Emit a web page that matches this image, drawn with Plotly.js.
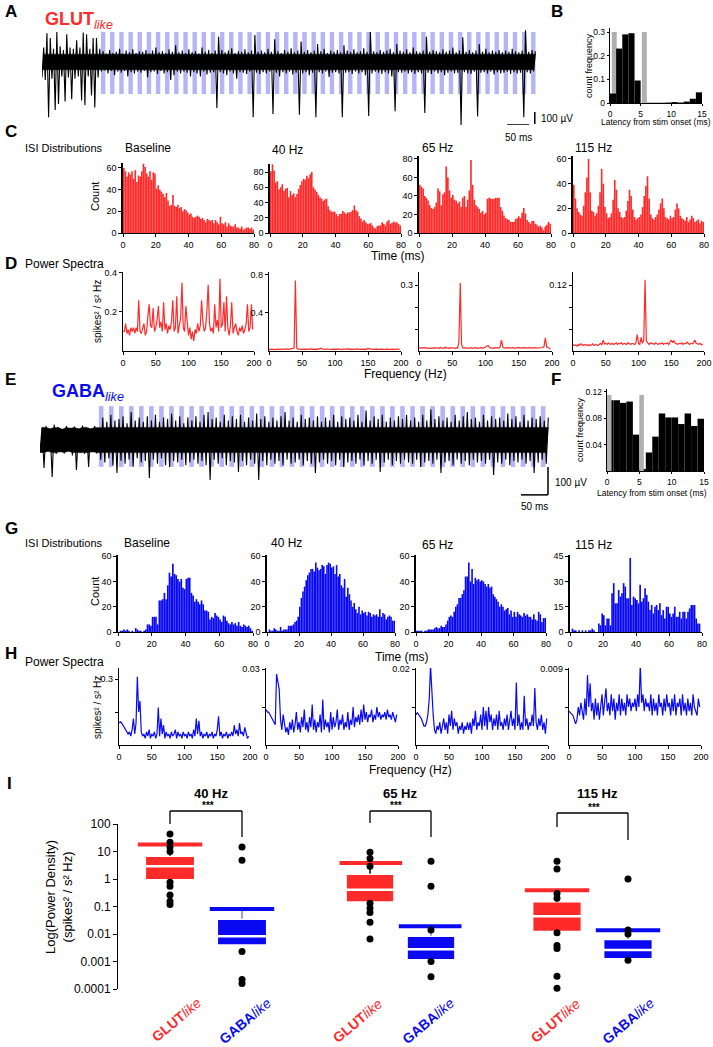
<!DOCTYPE html>
<html><head><meta charset="utf-8">
<script src="https://cdn.plot.ly/plotly-3.0.1.min.js"></script>
<style>html,body{margin:0;padding:0;background:#fff}#chart{width:713px;height:1047px}</style>
</head><body><div id="chart"></div>
<script>
// ---------------- DATA ----------------
// Panel A / E raw traces: per-bin max / min (µV), 7.5 ms bins
const traceBinMs = 7.5;
const A_hi = [120,240,200,110,250,130,100,230,120,110,180,120,245,230,110,200,200,110,
 90,70,100,75,85,110,70,95,80,105,75,90,
 85,100,70,95,120,80,90,75,105,85,140,80,
 95,75,105,80,90,70,120,85,100,75,95,210,
 100,80,95,115,75,90,85,105,80,95,225,85,
 95,80,110,85,190,90,75,100,85,115,80,95,
 170,85,100,80,95,150,90,110,75,95,85,100,
 80,140,95,85,105,80,90,115,85,250,90,80,
 100,85,95,110,80,150,95,85,105,80,120,90,
 80,95,210,85,100,90,80,105,85,95,120,80,
 95,205,85,100,80,95,150,85,110,80,95,85,
 100,80,95,85,110,90,80,95,265,85,100,90];
const A_lo = [-130,-150,-460,-140,-400,-350,-120,-330,-130,-310,-140,-120,-320,-360,-120,-280,-380,-130,
 -80,-70,-95,-75,-110,-80,-90,-75,-120,-85,-95,-80,
 -90,-75,-130,-85,-80,-100,-75,-95,-85,-150,-110,-80,
 -95,-80,-90,-120,-85,-95,-120,-80,-105,-90,-85,-383,
 -85,-95,-110,-80,-95,-140,-85,-90,-100,-80,-460,-90,
 -100,-85,-95,-80,-433,-90,-120,-85,-95,-80,-105,-90,
 -440,-95,-85,-110,-90,-460,-85,-95,-80,-125,-90,-85,
 -95,-460,-90,-85,-100,-80,-95,-85,-110,-450,-95,-80,
 -90,-100,-85,-95,-120,-410,-85,-90,-80,-95,-85,-100,
 -85,-95,-425,-90,-100,-80,-95,-85,-110,-90,-80,-95,
 -90,-525,-85,-95,-100,-80,-455,-90,-85,-95,-80,-105,
 -85,-95,-90,-80,-100,-85,-95,-90,-460,-85,-95,-80];
const E_hi = [45,50,40,55,45,38,50,42,48,40,52,45,40,50,44,
 80,65,90,70,75,85,60,100,70,80,65,
 85,70,90,65,80,75,95,70,85,60,80,
 70,85,65,90,100,75,80,65,90,70,85,
 75,90,65,80,70,95,75,85,65,80,70,
 85,100,70,80,65,90,75,80,70,85,65,
 80,70,90,65,85,75,80,70,90,65,105,
 70,85,75,90,65,80,70,85,75,90,70,
 80,65,90,70,110,75,85,70,80,65,90,
 70,85,100,75,80,65,90,70,85,75,80,
 70,95,75,85,65,90,70,80,75,85,70,80];
const E_lo = [-45,-100,-40,-132,-50,-42,-48,-40,-55,-107,-45,-50,-96,-42,-48,
 -70,-80,-65,-90,-118,-75,-85,-70,-95,-65,-80,
 -75,-136,-70,-85,-65,-90,-96,-75,-80,-70,-90,
 -80,-70,-85,-75,-90,-143,-70,-85,-65,-90,-75,
 -80,-114,-75,-90,-70,-85,-143,-75,-90,-70,-85,
 -75,-90,-70,-85,-80,-70,-90,-75,-85,-118,-80,
 -70,-85,-75,-90,-70,-96,-80,-75,-85,-70,-90,
 -75,-85,-70,-114,-80,-70,-90,-75,-85,-70,-80,
 -85,-70,-96,-80,-75,-85,-70,-118,-80,-75,-90,
 -70,-85,-75,-90,-70,-80,-75,-85,-70,-125,-80,
 -85,-70,-90,-75,-80,-70,-85,-75,-118,-80,-70,-85];
// stimulation trains (ms)
const stimA = {start:134, period:20.8, width:10, count:48};
const stimE = {start:109, period:18.6, width:8.5, count:45};

// Panels B / F: latency histograms (1 ms bins, 0-15 ms)
const B_freq = [0.04,0.23,0.29,0.295,0.095,0,0.001,0.001,0.001,0.002,0.004,0.002,0.006,0.018,0.045];
const B_blank = [[0.3,1.1],[5.2,6.0]];
const F_freq = [0.107,0.107,0.103,0.105,0.055,0.003,0.028,0.052,0.087,0.081,0.081,0.071,0.087,0.068,0.079];
const F_blank = [[0,0.7],[5,5.7]];
const B_blankH = 0.3, F_blankH = 0.115;

// Panel C: GLUT ISI distributions (1 ms bins, 0-80 ms)
const C_base = [60,57,52,56,54,57,50,58,47,53, 52,57,64,61,55,52,57,49,56,55, 41,44,40,38,36,33,37,30,25,26, 35,25,24,26,23,24,20,22,21,19,
 17,18,15,14,15,16,15,13,14,12, 10,13,12,11,12,9,12,10,8,15, 9,8,10,6,9,7,6,6,8,5, 5,4,6,3,4,5,5,4,5,3];
const C_40 = [81,90,82,66,68,57,60,64,55,58, 59,47,55,50,52,47,51,58,63,68, 71,70,75,72,77,80,60,57,54,50, 47,45,42,44,45,35,30,28,28,28,
 25,22,25,25,29,27,25,27,27,28, 30,36,30,28,22,19,15,17,14,12, 12,13,10,7,6,9,10,10,14,12, 10,15,17,12,13,15,14,14,12,10];
const C_65 = [52,50,48,40,38,35,30,27,26,28, 33,48,45,30,42,44,72,60,46,38, 41,36,35,32,34,28,38,40,28,36, 46,79,52,36,30,28,26,22,24,20,
 22,37,38,37,37,37,38,38,38,28, 24,19,16,15,14,12,12,12,15,16, 18,16,22,27,21,14,12,10,13,13, 10,9,7,8,6,3,7,9,12,10];
const C_115 = [39,28,20,17,15,14,22,33,45,60, 33,18,17,14,16,22,33,52,40,21, 16,12,13,16,27,43,35,20,17,13, 12,13,18,26,35,30,19,13,11,12,
 13,15,21,30,38,46,28,15,12,11, 13,15,19,24,28,20,13,12,11,14, 12,13,19,24,20,14,12,11,10,13, 9,11,14,12,9,10,11,8,10,9];
// Panel G: GABA ISI distributions
const G_base = [0,1,1,2,1,2,1,0,1,0, 3,2,1,1,0,1,2,6,6,5, 12,12,12,6,25,25,26,31,26,37, 47,44,54,46,45,42,40,42,35,34,
 42,43,43,31,29,24,26,24,22,25, 22,17,17,16,10,12,11,15,13,12, 10,8,13,12,9,7,6,8,6,7, 5,8,5,4,6,5,4,5,3,1];
const G_40 = [0,2,1,1,3,2,1,1,4,1, 2,2,2,5,5,5,6,8,9,12, 20,27,32,36,41,45,47,50,50,48, 55,51,49,50,53,52,46,53,55,54,
 51,52,46,53,44,46,37,35,42,28, 35,30,25,20,23,18,15,20,14,17, 15,16,13,16,15,12,14,13,14,12, 18,12,15,14,10,12,13,12,9,9];
const G_65 = [1,1,1,1,0,1,1,2,2,2, 2,3,4,3,3,5,4,4,6,9, 12,13,12,16,20,22,27,27,30,33, 44,44,55,40,50,38,43,41,42,40,
 41,40,38,36,38,35,36,30,28,26, 24,20,22,20,17,18,19,14,17,12, 16,12,16,14,13,12,15,13,14,12, 12,10,14,10,9,16,14,8,11,11];
const G_115 = [0,2,1,1,0,1,0,1,0,1, 0,1,1,2,1,0,0,5,4,11, 10,4,8,8,4,23,29,17,17,25, 21,23,29,27,20,20,44,16,21,20,
 19,17,28,18,20,26,22,18,13,16, 11,15,16,13,17,10,13,8,15,15, 11,9,11,15,9,9,12,8,12,12, 8,12,14,16,16,16,8,5,5,0];

// Panels D / H: power spectra, 2 Hz resolution (0-198 Hz)
const freqStepHz = 2;
const D_base = [0.10,0.10,0.14,0.09,0.11,0.08,0.12,0.10,0.12,0.09, 0.12,0.10,0.26,0.10,0.09,0.12,0.14,0.08,0.10,0.18,
 0.24,0.13,0.12,0.22,0.10,0.12,0.16,0.23,0.12,0.15, 0.10,0.25,0.11,0.14,0.09,0.13,0.11,0.15,0.26,0.10,
 0.12,0.28,0.09,0.13,0.17,0.35,0.12,0.10,0.23,0.15, 0.08,0.12,0.06,0.10,0.05,0.11,0.09,0.14,0.10,0.13,
 0.26,0.15,0.10,0.12,0.20,0.34,0.14,0.10,0.12,0.09, 0.24,0.12,0.16,0.10,0.37,0.12,0.14,0.25,0.10,0.28,
 0.12,0.08,0.13,0.25,0.09,0.12,0.14,0.10,0.08,0.12, 0.10,0.13,0.09,0.11,0.14,0.24,0.10,0.12,0.24,0.11];
const D_40 = [0.02,0.015,0.02,0.018,0.02,0.015,0.02,0.017,0.022,0.018, 0.02,0.016,0.02,0.018,0.022,0.017,0.02,0.018,0.02,0.03,
 0.74,0.03,0.02,0.016,0.02,0.018,0.021,0.017,0.02,0.018, 0.02,0.016,0.022,0.018,0.02,0.017,0.02,0.018,0.025,0.03,
 0.022,0.018,0.02,0.017,0.021,0.018,0.02,0.016,0.02,0.018, 0.02,0.017,0.022,0.018,0.02,0.016,0.02,0.018,0.021,0.02,
 0.025,0.018,0.02,0.017,0.02,0.018,0.022,0.017,0.02,0.018, 0.02,0.022,0.018,0.02,0.017,0.03,0.022,0.02,0.018,0.02,
 0.017,0.02,0.018,0.022,0.017,0.02,0.018,0.02,0.016,0.02, 0.018,0.02,0.017,0.02,0.018,0.021,0.017,0.02,0.018,0.02];
const D_65 = [0.015,0.012,0.015,0.013,0.016,0.012,0.014,0.013,0.015,0.012, 0.014,0.012,0.015,0.013,0.014,0.012,0.016,0.013,0.014,0.012,
 0.018,0.013,0.014,0.012,0.015,0.013,0.014,0.012,0.015,0.013, 0.04,0.31,0.03,0.014,0.013,0.015,0.012,0.014,0.013,0.015,
 0.012,0.014,0.013,0.015,0.012,0.014,0.013,0.015,0.012,0.014, 0.018,0.022,0.025,0.015,0.013,0.014,0.012,0.015,0.013,0.014,
 0.013,0.02,0.05,0.018,0.013,0.014,0.012,0.015,0.013,0.014, 0.013,0.015,0.012,0.014,0.013,0.016,0.013,0.014,0.012,0.015,
 0.013,0.014,0.012,0.015,0.013,0.014,0.012,0.015,0.013,0.014, 0.013,0.015,0.014,0.016,0.02,0.06,0.018,0.014,0.012,0.01];
const D_115 = [0.012,0.01,0.011,0.009,0.012,0.01,0.013,0.011,0.01,0.012, 0.011,0.01,0.012,0.01,0.011,0.013,0.01,0.012,0.011,0.01,
 0.012,0.014,0.011,0.02,0.013,0.014,0.012,0.015,0.013,0.012, 0.014,0.012,0.013,0.015,0.012,0.014,0.013,0.015,0.012,0.014,
 0.013,0.012,0.015,0.013,0.012,0.014,0.013,0.012,0.015,0.03, 0.014,0.012,0.025,0.014,0.02,0.13,0.018,0.014,0.012,0.015,
 0.013,0.014,0.012,0.015,0.013,0.012,0.014,0.013,0.015,0.012, 0.014,0.013,0.015,0.012,0.016,0.02,0.015,0.019,0.014,0.013,
 0.012,0.014,0.013,0.015,0.012,0.014,0.013,0.016,0.013,0.012, 0.014,0.013,0.015,0.02,0.014,0.013,0.012,0.014,0.011,0.013];
const H_base = [0.10,0.105,0.10,0.09,0.08,0.07,0.06,0.05,0.06,0.04, 0.07,0.12,0.05,0.10,0.31,0.15,0.20,0.06,0.04,0.05,
 0.03,0.06,0.04,0.07,0.03,0.05,0.04,0.06,0.03,0.05, 0.17,0.04,0.12,0.05,0.09,0.03,0.06,0.04,0.05,0.03,
 0.06,0.04,0.05,0.07,0.03,0.06,0.04,0.05,0.03,0.06, 0.04,0.05,0.03,0.06,0.04,0.05,0.03,0.07,0.04,0.12,
 0.05,0.11,0.04,0.06,0.03,0.05,0.04,0.06,0.03,0.05, 0.04,0.06,0.03,0.05,0.04,0.07,0.13,0.04,0.06,0.03,
 0.05,0.04,0.06,0.03,0.05,0.04,0.06,0.04,0.09,0.05, 0.07,0.04,0.10,0.05,0.06,0.04,0.08,0.05,0.03,0.04];
const H_40 = [0.014,0.013,0.013,0.012,0.011,0.010,0.009,0.008,0.028,0.024, 0.022,0.010,0.006,0.012,0.008,0.005,0.007,0.004,0.009,0.006,
 0.010,0.005,0.008,0.013,0.006,0.009,0.005,0.011,0.007,0.014, 0.006,0.009,0.005,0.011,0.007,0.016,0.006,0.010,0.005,0.009,
 0.007,0.012,0.005,0.018,0.006,0.010,0.007,0.009,0.005,0.013, 0.006,0.011,0.007,0.009,0.014,0.006,0.010,0.008,0.012,0.006,
 0.009,0.007,0.013,0.006,0.010,0.008,0.015,0.007,0.011,0.009, 0.012,0.008,0.014,0.009,0.016,0.010,0.013,0.009,0.012,0.011,
 0.014,0.009,0.012,0.010,0.015,0.011,0.013,0.010,0.012,0.011, 0.013,0.010,0.014,0.011,0.012,0.010,0.013,0.011,0.009,0.012];
const H_65 = [0.008,0.0085,0.008,0.0075,0.007,0.006,0.005,0.005,0.006,0.008, 0.012,0.021,0.014,0.008,0.004,0.003,0.005,0.004,0.006,0.003,
 0.005,0.007,0.004,0.006,0.003,0.008,0.005,0.009,0.004,0.007, 0.005,0.006,0.003,0.005,0.004,0.006,0.003,0.005,0.004,0.006,
 0.004,0.006,0.003,0.007,0.005,0.009,0.004,0.006,0.005,0.008, 0.004,0.010,0.005,0.009,0.004,0.010,0.006,0.008,0.004,0.007,
 0.005,0.008,0.004,0.009,0.005,0.006,0.004,0.007,0.005,0.008, 0.004,0.006,0.009,0.005,0.007,0.004,0.0165,0.005,0.008,0.004,
 0.006,0.004,0.013,0.005,0.007,0.004,0.006,0.005,0.008,0.005, 0.015,0.006,0.004,0.007,0.005,0.008,0.004,0.006,0.003,0.007];
const H_115 = [0.0040,0.0038,0.0037,0.0035,0.0030,0.0025,0.0030,0.0045,0.0035,0.0050, 0.0040,0.0030,0.0055,0.0035,0.0083,0.0045,0.0073,0.0040,0.0050,0.0030,
 0.0055,0.0035,0.0050,0.0030,0.0045,0.0060,0.0035,0.0050,0.0067,0.0040, 0.0050,0.0035,0.0060,0.0040,0.0055,0.0030,0.0050,0.0040,0.0060,0.0035,
 0.0055,0.0040,0.0050,0.0035,0.0060,0.0045,0.0055,0.0040,0.0050,0.0045, 0.0055,0.0040,0.0060,0.0045,0.0096,0.0050,0.0060,0.0040,0.0055,0.0045,
 0.0050,0.0040,0.0060,0.0035,0.0055,0.0040,0.0050,0.0035,0.0060,0.0045, 0.0050,0.0035,0.0055,0.0040,0.0060,0.0045,0.0050,0.0035,0.0055,0.0040,
 0.0060,0.0035,0.0050,0.0045,0.0055,0.0035,0.0060,0.0040,0.0050,0.0035, 0.0055,0.0040,0.0050,0.0035,0.0060,0.0045,0.0040,0.0035,0.0055,0.0045];

// Panel I: power density at stim frequency (box stats + individual points)
const I_groups = ['40 Hz','65 Hz','115 Hz'];
const I_cats = ['GLUT','GABA'];
const I_q1     = [[0.9,0.0038],[0.14,0.0011],[0.0118,0.0012]];
const I_median = [[2.9,0.0083],[0.41,0.0028],[0.044,0.0026]];
const I_q3     = [[7.0,0.036],[1.56,0.0087],[0.155,0.0066]];
const I_cap    = [[17.8,0.081],[3.8,0.019],[0.39,0.0136]];
const I_points = [
 [[43,21.5,14.6,10,0.76,0.54,0.26,0.155,0.118],[14.6,4.8,0.0023,0.00022,0.00016]],
 [[9.3,5.6,2.9,0.13,0.087,0.061,0.027,0.0066],[4.4,0.54,0.014,0.001,0.00028,0.000051]],
 [[4.4,2.3,0.3,0.2,0.011,0.0038,0.003,0.00029,0.000107],[1.0,0.014,0.01,0.0011,0.000069]]];
const I_sig = ['***','***','***'];

// ---------------- LAYOUT HELPERS ----------------
const W=713, H=1047, FONT='Liberation Sans, Arial, Helvetica, sans-serif';
const RED='#ff2b2b', BLUE='#0a0af2', STIM='#b4b4f7', GREY='#b0b0b0';
const px = v => v/W, py = v => 1-v/H;
const xd = (a,b)=>[a/W,b/W], yd=(t,b)=>[1-b/H,1-t/H];
const data=[];
const layout={width:W,height:H,margin:{l:0,r:0,t:0,b:0},showlegend:false,paper_bgcolor:'#fff',plot_bgcolor:'rgba(0,0,0,0)',
  font:{family:FONT,color:'#000'},barmode:'overlay',annotations:[],shapes:[],hovermode:false};
const baseAx={showgrid:false,zeroline:false,showline:true,linecolor:'#000',linewidth:1.3,ticks:'outside',ticklen:3,tickwidth:1,
  tickcolor:'#000',tickfont:{size:9,family:FONT,color:'#000'},fixedrange:true};
function axes(n,xdom,ydom,xr,yr,xo,yo){
  layout['xaxis'+n]=Object.assign({},baseAx,{domain:xdom,range:xr,anchor:'y'+n},xo||{});
  layout['yaxis'+n]=Object.assign({},baseAx,{domain:ydom,range:yr,anchor:'x'+n},yo||{});
}
function txt(x,y,text,o){o=o||{};layout.annotations.push({xref:'paper',yref:'paper',x:px(x),y:py(y),text,showarrow:false,
  xanchor:o.xa||'left',yanchor:'middle',textangle:o.rot||0,font:{family:FONT,size:o.size||11,color:o.color||'#000'}});}
const hid={visible:false};

// ---- traces A and E: dense noise core (fill, clipped to core level) + min/max zig-zag line ----
function rawTrace(n,hi,lo,core){
  const x=[],y=[],ex=[],ey=[];
  hi.forEach((h,i)=>{x.push(i*traceBinMs,i*traceBinMs+traceBinMs/2);y.push(lo[i],h);});
  hi.forEach((h,i)=>{ex.push(i*traceBinMs+traceBinMs/2);ey.push(Math.min(h,core));});
  for(let i=lo.length-1;i>=0;i--){ex.push(i*traceBinMs);ey.push(Math.max(lo[i],-core));}
  data.push({type:'scatter',mode:'lines',x:ex,y:ey,fill:'toself',fillcolor:'#000',line:{color:'#000',width:0.5},xaxis:'x'+n,yaxis:'y'+n,cliponaxis:false});
  data.push({type:'scatter',mode:'lines',x,y,xaxis:'x'+n,yaxis:'y'+n,line:{color:'#000',width:1.1},cliponaxis:false});}
function stimBars(n,s,lo,hi){const x=[];for(let k=0;k<s.count;k++)x.push(s.start+k*s.period+s.width/2);
  data.push({type:'bar',x,y:x.map(()=>hi-lo),base:lo,width:s.width,marker:{color:STIM,line:{width:0}},xaxis:'x'+n,yaxis:'y'+n});}
function scaleBar(n,x0,y0,ms,xv,v0,uv){
  layout.shapes.push({type:'line',xref:'x'+n,yref:'y'+n,x0:x0,x1:x0+ms,y0:y0,y1:y0,line:{color:'#000',width:1.5}});
  layout.shapes.push({type:'line',xref:'x'+n,yref:'y'+n,x0:xv,x1:xv,y0:v0,y1:v0+uv,line:{color:'#000',width:1.5}});}

// A: px 42-537 (1125 ms), y px 28-125, 100 µV = 12 px
axes(2,xd(42,537),yd(28,125),[0,1125],[-525,283],hid,hid);
stimBars(2,stimA,-267,250);
rawTrace(2,A_hi,A_lo,65);
scaleBar(2,1057,-525,50,1120,-517,100);
// E: px 40-550 (944 ms), y px 400-497, 100 µV = 28 px
axes(12,xd(40,550),yd(400,497),[0,944.4],[-203.6,142.9],hid,hid);
stimBars(12,stimE,-96,121);
rawTrace(12,E_hi,E_lo,45);
scaleBar(12,890.7,-196,50,940.7,-196,100);

// ---- latency histograms B and F ----
function latHist(n,freq,blank,bh,greyOnTop){
  const g={type:'bar',x:blank.map(b=>(b[0]+b[1])/2),y:blank.map(()=>bh),width:blank.map(b=>b[1]-b[0]),marker:{color:GREY,line:{width:0}},xaxis:'x'+n,yaxis:'y'+n};
  const k={type:'bar',x:freq.map((_,i)=>i+0.5),y:freq,width:1,marker:{color:'#000',line:{width:0}},xaxis:'x'+n,yaxis:'y'+n};
  if(greyOnTop){data.push(k,g);}else{data.push(g,k);}
}
const smallF={size:8.5,family:FONT,color:'#000'};
const latX={tickvals:[0,5,10,15],ticklen:2,tickfont:smallF};
axes(3,xd(610,702),yd(28,103),[0,15],[0,0.317],latX,{tickvals:[0,0.1,0.2,0.3],ticktext:['0','0.1','0.2','0.3'],ticklen:2,tickfont:smallF});
latHist(3,B_freq,B_blank,B_blankH,false);
axes(13,xd(607,704),yd(389,471),[0,15],[0,0.124],latX,{tickvals:[0.04,0.08,0.12],ticklen:2,tickfont:smallF});
latHist(13,F_freq,F_blank,F_blankH,true);

// ---- ISI histograms ----
function hist(n,vals,color){data.push({type:'bar',x:vals.map((_,i)=>i+0.5),y:vals,width:1,marker:{color,line:{width:0}},xaxis:'x'+n,yaxis:'y'+n});}
const isiX={tickvals:[0,20,40,60,80]};
axes(4,xd(123,254),yd(163,233),[0,80],[0,64.6],isiX,{tickvals:[0,20,40,60],linewidth:1.8});
axes(5,xd(270,401),yd(164,233),[0,80],[0,90.5],isiX,{tickvals:[0,20,40,60,80],linewidth:1.8});
axes(6,xd(419,551),yd(156,233),[0,80],[0,83.2],isiX,{tickvals:[0,20,40,60,80],linewidth:1.8});
axes(7,xd(573,704),yd(156,233),[0,80],[0,62.4],isiX,{tickvals:[0,20,40,60],linewidth:1.8});
[C_base,C_40,C_65,C_115].forEach((v,i)=>hist(4+i,v,RED));
axes(14,xd(118,253),yd(555,632),[0,80],[0,61],isiX,{tickvals:[0,20,40,60],linewidth:1.8});
axes(15,xd(267,395),yd(555,632),[0,80],[0,61],isiX,{tickvals:[0,20,40,60],linewidth:1.8});
axes(16,xd(416,546),yd(555,632),[0,80],[0,61],isiX,{tickvals:[0,20,40,60],linewidth:1.8});
axes(17,xd(570,702),yd(555,632),[0,80],[0,45.7],isiX,{tickvals:[0,15,30,45],linewidth:1.8});
[G_base,G_40,G_65,G_115].forEach((v,i)=>hist(14+i,v,BLUE));

// ---- power spectra ----
function spec(n,vals,color){data.push({type:'scatter',mode:'lines',x:vals.map((_,i)=>i*freqStepHz),y:vals,line:{color,width:1.2},cliponaxis:false,xaxis:'x'+n,yaxis:'y'+n});}
const psX={tickvals:[0,50,100,150,200]};
const mn=v=>({tickvals:v,ticks:'outside',ticklen:3,tickcolor:'#000'});
axes(8,xd(123,254),yd(272,351),[0,200],[0,0.405],psX,{tickvals:[0.2,0.4],ticktext:['0.2','0.4']});
axes(9,xd(269,401),yd(272,351),[0,200],[0,0.83],psX,{tickvals:[0.4,0.8],ticktext:['0.4','0.8']});
axes(10,xd(419,552),yd(272,351),[0,200],[0,0.36],psX,{tickvals:[0.3],minor:mn([0.1,0.2])});
axes(11,xd(573,704),yd(272,351),[0,200],[0,0.144],psX,{tickvals:[0.12],minor:mn([0.04,0.08])});
[D_base,D_40,D_65,D_115].forEach((v,i)=>spec(8+i,v,RED));
axes(18,xd(119,250),yd(668,745),[0,200],[0,0.35],psX,{tickvals:[0.3],minor:mn([0.15])});
axes(19,xd(266,398),yd(668,745),[0,200],[0,0.0304],psX,{tickvals:[0.03],minor:mn([0.015])});
axes(20,xd(416,548),yd(668,745),[0,200],[0,0.0203],psX,{tickvals:[0.02],minor:mn([0.01])});
axes(21,xd(569,701),yd(668,745),[0,200],[0,0.00912],psX,{tickvals:[0.009],minor:mn([0.0045])});
[H_base,H_40,H_65,H_115].forEach((v,i)=>spec(18+i,v,BLUE));

// ---- panel I boxes ----
layout.yaxis22=Object.assign({},baseAx,{type:'log',domain:yd(824,989),range:[-4,2],anchor:'free',position:117/W,
  tickvals:[0.0001,0.001,0.01,0.1,1,10,100],ticktext:['0.0001','0.001','0.01','0.1','1','10','100'],tickfont:{size:12,family:FONT,color:'#000'},ticklen:4});
const grpDom=[xd(134,278),xd(339.5,461.5),xd(521.5,663.5)];
const boxW=[0.7,0.8,0.7];
const catLabel=['<b>GLUT</b><i>like</i>','<b>GABA</b><i>like</i>'];
const catLabelPos=[[[176,1020],[245,1021]],[[357,1021],[428,1021]],[[555,1021],[628,1021]]];
I_groups.forEach((g,gi)=>{
  const n=22+gi, xa='x'+n;
  layout['xaxis'+n]=Object.assign({},baseAx,{domain:grpDom[gi],type:'category',categoryorder:'array',categoryarray:I_cats,range:[-0.5,1.5],
    anchor:'y22',showline:false,ticks:'',showticklabels:false});
  I_cats.forEach((c,ci)=>{
    const col=ci===0?RED:BLUE;
    data.push({type:'box',x:[c],q1:[I_q1[gi][ci]],median:[I_median[gi][ci]],q3:[I_q3[gi][ci]],lowerfence:[I_q1[gi][ci]],upperfence:[I_q3[gi][ci]],
      fillcolor:col,line:{color:'#ffffff',width:2.5},width:boxW[gi],boxpoints:false,xaxis:xa,yaxis:'y22'});
    data.push({type:'scatter',mode:'lines',x:[c,c],y:[I_q3[gi][ci],I_cap[gi][ci]],line:{color:ci===0?'#000':'#6f86d6',width:1.5},xaxis:xa,yaxis:'y22'});
    data.push({type:'scatter',mode:'markers',x:[c],y:[I_cap[gi][ci]],marker:{symbol:'line-ew',size:46,line:{color:col,width:4}},xaxis:xa,yaxis:'y22'});
    data.push({type:'scatter',mode:'markers',x:I_points[gi][ci].map(()=>c),y:I_points[gi][ci],marker:{color:'#000',size:7},cliponaxis:false,xaxis:xa,yaxis:'y22'});
    const lp=catLabelPos[gi][ci];
    txt(lp[0],lp[1],catLabel[ci],{size:14,color:col,rot:-40,xa:'center'});
  });
});
// brackets
const brk=[[811,824,837],[811,823,837],[813,827,840]];
const grpTitleX=[211,400,597], sigX=[208,396,594];
I_groups.forEach((g,gi)=>{
  const xa='x'+(22+gi), b=brk[gi], ln={color:'#000',width:1.3};
  layout.shapes.push({type:'line',xref:xa,yref:'paper',x0:0,x1:1,y0:py(b[0]),y1:py(b[0]),line:ln});
  layout.shapes.push({type:'line',xref:xa,yref:'paper',x0:0,x1:0,y0:py(b[0]),y1:py(b[1]),line:ln});
  layout.shapes.push({type:'line',xref:xa,yref:'paper',x0:1,x1:1,y0:py(b[0]),y1:py(b[2]),line:ln});
  txt(grpTitleX[gi],793,'<b>'+g+'</b>',{xa:'center',size:13});
  txt(sigX[gi],b[0]-6,'<b>'+I_sig[gi]+'</b>',{xa:'center',size:10});
});

// ---- text ----
const L={size:17};
txt(3,12,'<b>A</b>',L); txt(549,12,'<b>B</b>',L); txt(3,131,'<b>C</b>',L); txt(3,263,'<b>D</b>',L);
txt(3,379,'<b>E</b>',L); txt(549,379,'<b>F</b>',L); txt(3,528,'<b>G</b>',L); txt(3,653,'<b>H</b>',L); txt(5,783,'<b>I</b>',L);
txt(43,21,'<b>GLUT</b><sub><i>like</i></sub>',{size:18,color:RED});
txt(50,392,'<b>GABA</b><sub><i>like</i></sub>',{size:18,color:BLUE});
txt(539,119,'100 µV',{size:10}); txt(518,137,'50 ms',{size:10,xa:'center'});
txt(553,482,'100 µV',{size:10}); txt(534,506,'50 ms',{size:10,xa:'center'});
txt(589,66,'count frequency',{size:9,rot:-90,xa:'center'}); txt(656,122,'Latency from stim onset (ms)',{size:8.5,xa:'center'});
txt(580,430,'count frequency',{size:9,rot:-90,xa:'center'}); txt(652,493,'Latency from stim onset (ms)',{size:8.5,xa:'center'});
txt(23,148,'ISI Distributions',{size:11}); txt(23,543,'ISI Distributions',{size:11});
txt(23,264,'Power Spectra',{size:12}); txt(23,662,'Power Spectra',{size:12});
[['Baseline',123,148],['40 Hz',270,150],['65 Hz',420,148],['115 Hz',573,148]].forEach(t=>txt(t[1],t[2],t[0],{size:12}));
[['Baseline',122,543],['40 Hz',269,543],['65 Hz',420,545],['115 Hz',573,545]].forEach(t=>txt(t[1],t[2],t[0],{size:12}));
txt(95,197,'Count',{size:11,rot:-90,xa:'center'}); txt(95,592,'Count',{size:11,rot:-90,xa:'center'});
txt(97,312,'spikes² / s² Hz',{size:10,rot:-90,xa:'center'}); txt(97,708,'spikes² / s² Hz',{size:10,rot:-90,xa:'center'});
txt(398,256,'Time (ms)',{size:12,xa:'center'}); txt(402,657,'Time (ms)',{size:12,xa:'center'});
txt(405,374,'Frequency (Hz)',{size:12,xa:'center'}); txt(411,770,'Frequency (Hz)',{size:12,xa:'center'});
txt(59,897,'Log(Power Density)<br>(spikes² / s² Hz)',{size:13,rot:-90,xa:'center'});

Plotly.newPlot('chart',data,layout,{staticPlot:true,displayModeBar:false});
</script></body></html>
